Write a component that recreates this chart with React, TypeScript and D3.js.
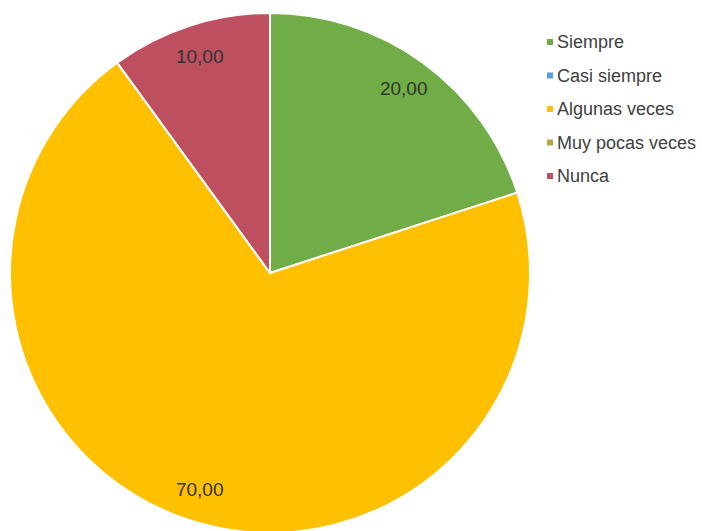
import React from "react";
import * as d3 from "d3";

const categories = ["Siempre", "Casi siempre", "Algunas veces", "Muy pocas veces", "Nunca"];
const values = [20, 0, 70, 0, 10];
const colors = ["#70AD47", "#5B9BD5", "#FFC000", "#B5A642", "#BE4F5E"];

const W = 702;
const H = 531;
const cx = 270;
const cy = 273;
const R = 260;

export default function App() {
  const data = categories.map((c, i) => ({ name: c, value: values[i], color: colors[i] }));
  const pie = d3.pie<any>().value((d) => d.value).sort(null);
  const arcs = pie(data);
  const arc = d3.arc<any>().innerRadius(0).outerRadius(R);
  const labelArc = d3.arc<any>().innerRadius(R * 0.875).outerRadius(R * 0.875);
  const fmt = (v: number) => v.toFixed(2).replace(".", ",");
  const legendY = d3.scaleLinear().domain([0, categories.length - 1]).range([42, 176]);

  return (
    <svg
      width={W}
      height={H}
      style={{ position: "absolute", left: 0, top: 0, background: "#fff" }}
      fontFamily="'Liberation Sans', Arial, sans-serif"
    >
      <g transform={`translate(${cx},${cy})`}>
        {arcs.filter((a) => a.value > 0).map((a, i) => (
          <path key={i} d={arc(a) as string} fill={a.data.color} stroke="#fff" strokeWidth={2} strokeLinejoin="round" />
        ))}
        {arcs.filter((a) => a.value > 0).map((a, i) => {
          const [x, y] = labelArc.centroid(a);
          return (
            <text key={i} x={x} y={y} textAnchor="middle" dominantBaseline="central" fontSize={19} fill="#333">
              {fmt(a.value as number)}
            </text>
          );
        })}
      </g>
      <g>
        {categories.map((c, i) => (
          <g key={c} transform={`translate(547,${legendY(i)})`}>
            <rect x={0} y={-3} width={6} height={6} fill={colors[i]} />
            <text x={10} y={0} dominantBaseline="central" fontSize={18} fill="#404040">
              {c}
            </text>
          </g>
        ))}
      </g>
    </svg>
  );
}
